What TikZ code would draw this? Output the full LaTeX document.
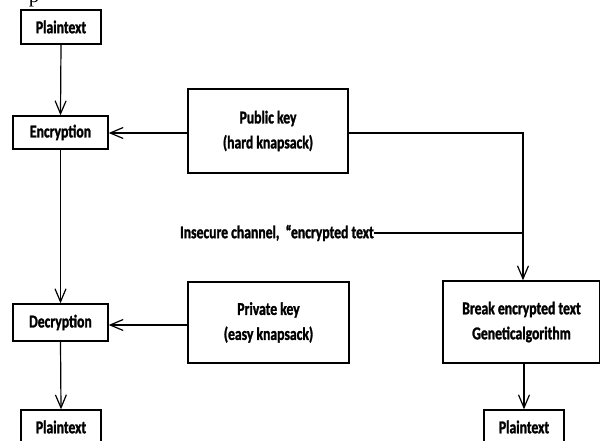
\documentclass[tikz,border=0pt]{standalone}
\usepackage{fontspec}
\setmainfont{Carlito}
\newfontfamily\boxfont[FakeStretch=0.76,FakeBold=1.5]{Carlito}
\newfontfamily\seriffont{Liberation Serif}
\usetikzlibrary{arrows.meta}
\tikzset{
  box/.style={draw, line width=1.4pt, minimum width=#1, inner sep=0pt, align=center,
    font=\boxfont\bfseries\fontsize{18}{25}\selectfont},
  conn/.style={line width=1.2pt},
  arr/.style={conn, -{Straight Barb[length=13pt,width=11pt,line width=1.2pt]}},
  lbl/.style={inner sep=0pt, font=\boxfont\bfseries\fontsize{18}{25}\selectfont}
}
\begin{document}
\begin{tikzpicture}[x=1pt,y=-1pt]
\clip (0,0) rectangle (600,441);
\node[inner sep=0pt, anchor=base, font=\seriffont\fontsize{21}{21}\selectfont] (frag) at (34,3) {p};
\node[box=80pt, minimum height=34pt] (pt1) at (61,27) {Plaintext};
\node[box=95pt, minimum height=33pt] (enc) at (60.5,132.5) {Encryption};
\node[box=95pt, minimum height=37pt] (dec) at (60.5,322.5) {Decryption};
\node[box=80pt, minimum height=34pt] (pt2) at (61,427) {Plaintext};
\node[box=160pt, minimum height=84pt] (pub) at (268,131) {Public key\\(hard knapsack)};
\node[box=161pt, minimum height=81pt] (priv) at (268.5,322.5) {Private key\\(easy knapsack)};
\node[box=157pt, minimum height=82pt] (brk) at (521.5,322) {Break encrypted text\\Geneticalgorithm};
\node[box=80pt, minimum height=34pt] (pt3) at (524,427) {Plaintext};
\node[lbl, anchor=east] (ins) at (374,233) {Insecure channel, \,“encrypted text};
\coordinate (corner) at (523,133);
\coordinate (join) at (523,233);
\draw[arr] (pt1.south) -- (enc.north);
\draw[arr] (enc.south) -- (dec.north);
\draw[arr] (dec.south) -- (pt2.north);
\draw[arr] (pub.west |- 0,133) -- (enc.east |- 0,133);
\draw[arr] (priv.west |- 0,325) -- (dec.east |- 0,325);
\draw[conn] (pub.east |- corner) -- (corner) -- (join);
\draw[arr] (join) -- (join |- brk.north);
\draw[conn] (ins.east) -- (join);
\draw[arr] (brk.south -| 524,0) -- (pt3.north);
\end{tikzpicture}
\end{document}
